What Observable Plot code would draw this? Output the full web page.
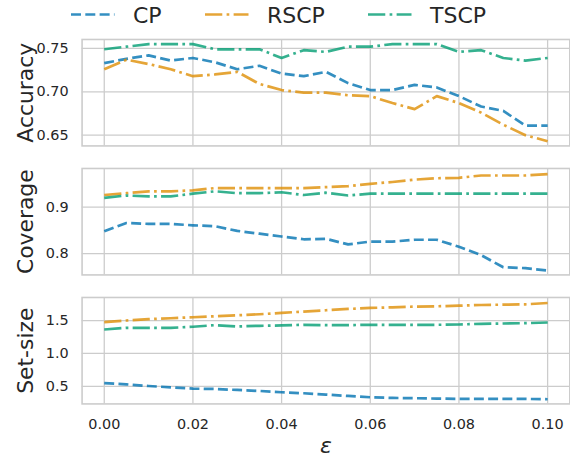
<!DOCTYPE html>
<html><head><meta charset="utf-8">
<script src="https://cdn.jsdelivr.net/npm/d3@7"></script>
<script src="https://cdn.jsdelivr.net/npm/@observablehq/plot@0.6"></script>
<style>
html,body{margin:0;padding:0;background:#fff;overflow:hidden;}
#c{position:relative;width:570px;height:457px;overflow:hidden;font-family:"DejaVu Sans",sans-serif;color:#262626;background:#fff;}
#c > *{position:absolute;left:0;}
</style></head><body><div id="c"></div>
<script>
const eps = [0, 0.005, 0.01, 0.015, 0.02, 0.025, 0.03, 0.035, 0.04, 0.045, 0.05, 0.055, 0.06, 0.065, 0.07, 0.075, 0.08, 0.085, 0.09, 0.095, 0.1];
const methods = ["CP", "RSCP", "TSCP"];
const colors = ["#0173b2", "#de8f05", "#029e73"];
const xTicks = [0, 0.02, 0.04, 0.06, 0.08, 0.1];

const accCP   = [0.733,0.738,0.742,0.736,0.739,0.734,0.726,0.730,0.721,0.718,0.723,0.710,0.702,0.702,0.708,0.705,0.695,0.683,0.678,0.661,0.661];
const accRSCP = [0.726,0.737,0.732,0.726,0.718,0.720,0.723,0.709,0.702,0.699,0.699,0.696,0.695,0.687,0.680,0.695,0.687,0.676,0.662,0.650,0.643];
const accTSCP = [0.749,0.752,0.755,0.755,0.755,0.749,0.749,0.749,0.739,0.748,0.746,0.752,0.752,0.755,0.755,0.755,0.746,0.748,0.739,0.736,0.739];

const covCP   = [0.848,0.866,0.864,0.864,0.861,0.859,0.849,0.843,0.837,0.831,0.832,0.820,0.826,0.826,0.830,0.830,0.815,0.797,0.771,0.769,0.764];
const covRSCP = [0.926,0.930,0.934,0.934,0.936,0.941,0.941,0.941,0.941,0.941,0.943,0.945,0.950,0.954,0.959,0.962,0.963,0.968,0.968,0.968,0.971];
const covTSCP = [0.920,0.925,0.923,0.923,0.929,0.934,0.930,0.930,0.932,0.926,0.931,0.925,0.929,0.929,0.929,0.929,0.929,0.929,0.929,0.929,0.929];

const sizeCP   = [0.550,0.530,0.505,0.485,0.465,0.460,0.445,0.430,0.410,0.395,0.375,0.354,0.334,0.324,0.320,0.314,0.309,0.309,0.309,0.309,0.304];
const sizeRSCP = [1.475,1.500,1.520,1.535,1.550,1.565,1.580,1.595,1.616,1.636,1.656,1.676,1.691,1.701,1.711,1.716,1.726,1.736,1.741,1.746,1.766];
const sizeTSCP = [1.364,1.389,1.389,1.389,1.405,1.430,1.410,1.420,1.425,1.435,1.430,1.430,1.435,1.435,1.435,1.435,1.440,1.450,1.455,1.460,1.470];

const accTicks = [0.65, 0.70, 0.75];
const covTicks = [0.8, 0.9];
const sizeTicks = [0.5, 1.0, 1.5];

const LW = 2.7;
const dashes = [`${3.7*LW},${1.6*LW}`, `${6.4*LW},${1.6*LW},${1*LW},${1.6*LW}`, `${6.4*LW},${1.6*LW},${1*LW},${1.6*LW}`];
const TEXT = "#262626", GRID = "#cccccc";

function rows(series) {
  const out = [];
  series.forEach((vals, m) => vals.forEach((v, i) => out.push({eps: eps[i], value: v, method: methods[m]})));
  return out;
}

const container = document.getElementById("c");

function panel(label, series, domain, ticks, fmt, frameTop, showX) {
  const mt = 2, fh = 107, mb = showX ? 53 : 3;
  const data = rows(series);
  const marks = [
    Plot.gridX(xTicks, {stroke: GRID, strokeOpacity: 1, strokeWidth: 1.3}),
    Plot.gridY(ticks, {stroke: GRID, strokeOpacity: 1, strokeWidth: 1.3}),
    Plot.frame({stroke: GRID, strokeWidth: 1.6}),
    Plot.axisY(ticks, {tickSize: 0, tickPadding: 13.5, tickFormat: fmt, label: null, fontSize: 14.5, fill: TEXT}),
    Plot.text([label], {frameAnchor: "left", text: d => d, rotate: -90, dx: -56, fontSize: 22, fill: TEXT, lineAnchor: "middle", textAnchor: "middle"})
  ];
  methods.forEach((m, k) => {
    marks.push(Plot.line(data.filter(d => d.method === m), {
      x: "eps", y: "value", stroke: colors[k], strokeOpacity: 0.8, strokeWidth: LW,
      strokeDasharray: dashes[k], strokeLinecap: "butt", strokeLinejoin: "round"
    }));
  });
  if (showX) {
    marks.push(Plot.axisX(xTicks, {tickSize: 0, tickPadding: 15, tickFormat: d3.format(".2f"), label: null, fontSize: 14.5, fill: TEXT}));
    marks.push(Plot.text(["ε"], {frameAnchor: "bottom", text: d => d, dy: 42, fontSize: 22, fontStyle: "italic", fill: TEXT, lineAnchor: "middle", textAnchor: "middle"}));
  }
  const p = Plot.plot({
    width: 573, height: mt + fh + mb,
    marginLeft: 82, marginRight: 0.7, marginTop: mt, marginBottom: mb,
    style: {fontFamily: "DejaVu Sans", fontSize: "14.5px", color: TEXT, background: "transparent", overflow: "visible"},
    x: {domain: [-0.005, 0.105], axis: showX ? undefined : null},
    y: {domain},
    marks
  });
  p.style.top = (frameTop - mt) + "px";
  container.appendChild(p);
}

panel("Accuracy", [accCP, accRSCP, accTSCP], [0.6376, 0.7603], accTicks, d3.format(".2f"), 39.3, false);
panel("Coverage", [covCP, covRSCP, covTSCP], [0.7545, 0.9830], covTicks, d3.format(".1f"), 168, false);
panel("Set-size", [sizeCP, sizeRSCP, sizeTSCP], [0.233, 1.850], sizeTicks, d3.format(".1f"), 297, true);

// legend
const legendX = [[71, 133], [205, 267], [368, 430]];
const lg = d3.create("svg").attr("width", 570).attr("height", 36).style("top", "0px")
  .style("font-family", "DejaVu Sans");
methods.forEach((m, k) => {
  const [x0, tx] = legendX[k];
  lg.append("line").attr("x1", x0).attr("x2", x0 + 43.5).attr("y1", 14.5).attr("y2", 14.5)
    .attr("stroke", colors[k]).attr("stroke-opacity", 0.8).attr("stroke-width", LW)
    .attr("stroke-dasharray", dashes[k]).attr("stroke-linecap", "butt");
  lg.append("text").attr("x", tx).attr("y", 22.7).attr("font-size", 22).attr("fill", TEXT).text(m);
});
container.appendChild(lg.node());
</script>
</body></html>
